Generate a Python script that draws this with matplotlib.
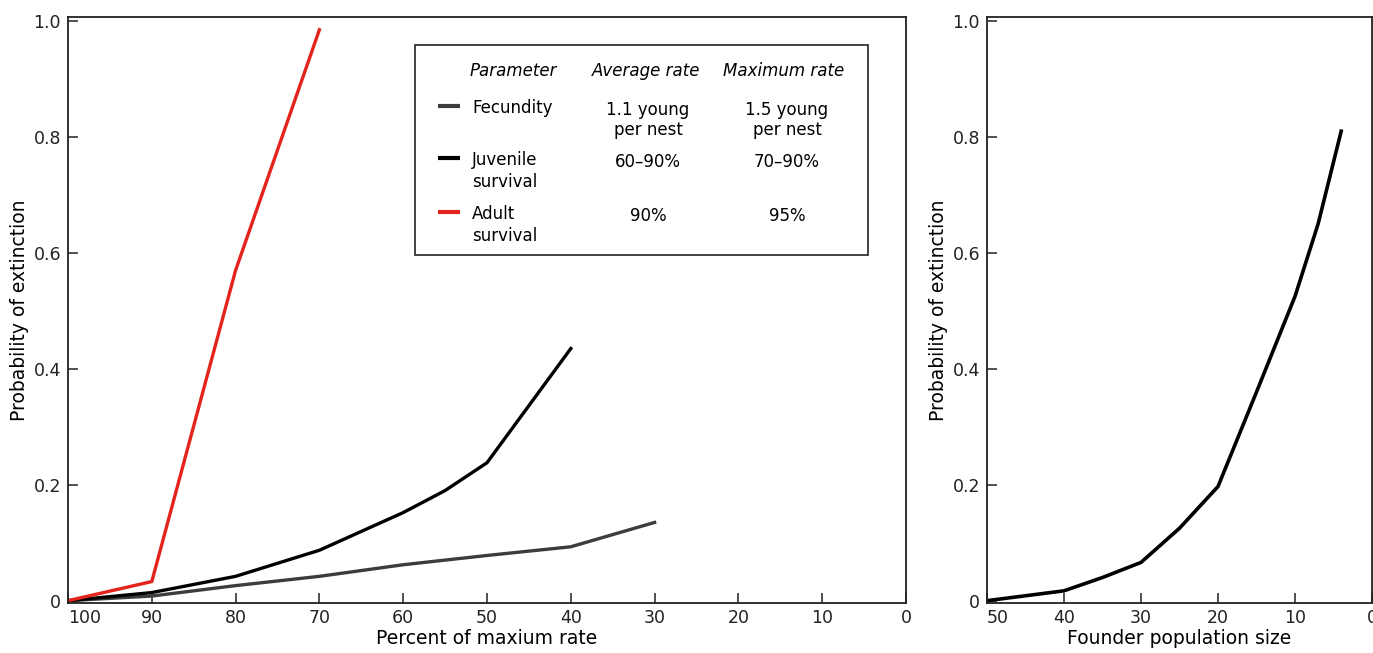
import matplotlib
matplotlib.use("Agg");
import matplotlib.pyplot as plt;
import numpy as np;

plt.rcParams['font.family'] = ['DejaVu Sans'];

# left panel: percent of maximum rate vs probability of extinction
adult_x = [100, 90, 80, 70];
adult_y = [0.0, 0.033, 0.57, 0.985];
juv_x = [100, 90, 80, 70, 60, 55, 50, 40];
juv_y = [0.0, 0.014, 0.042, 0.087, 0.152, 0.19, 0.238, 0.435];
fec_x = [100, 90, 80, 70, 60, 50, 40, 30];
fec_y = [0.0, 0.008, 0.026, 0.042, 0.062, 0.078, 0.093, 0.135];

# right panel: founder population size
founder_x = [50, 40, 35, 30, 25, 20, 15, 10, 7, 4];
founder_y = [0.0, 0.017, 0.04, 0.066, 0.125, 0.197, 0.36, 0.525, 0.65, 0.81];

left_ticks = [100, 90, 80, 70, 60, 50, 40, 30, 20, 10, 0];
right_ticks = [50, 40, 30, 20, 10, 0];
y_ticks = [0, 0.2, 0.4, 0.6, 0.8, 1.0];
y_labels = ['0', '0.2', '0.4', '0.6', '0.8', '1.0'];

red = '#e3231c';
gray = '#3c3c3c';

W, H = 1373, 653;
fig = plt.figure(figsize=(W/100, H/100), dpi=100);
ax1 = fig.add_axes([68/W, 50/H, 838/W, 586/H]);
ax2 = fig.add_axes([987/W, 50/H, 385/W, 586/H]);

ax1.plot(fec_x, fec_y, color=gray, lw=2.4, solid_joinstyle='round');
ax1.plot(juv_x, juv_y, color='black', lw=2.4, solid_joinstyle='round');
ax1.plot(adult_x, adult_y, color=red, lw=2.4, solid_joinstyle='round');
ax2.plot(founder_x, founder_y, color='black', lw=2.6, solid_joinstyle='round');

ax1.set_xlim(100, 0);
ax2.set_xlim(50, 0);
ax1.set_xticks(left_ticks);
ax1.set_xticklabels([str(t) for t in left_ticks]);
ax2.set_xticks(right_ticks);
ax2.set_xticklabels([str(t) for t in right_ticks]);

for ax in (ax1, ax2):
    ax.set_ylim(-0.004, 1.007);
    ax.set_yticks(y_ticks);
    ax.set_yticklabels(y_labels);
    ax.tick_params(direction='in', length=7, width=1.1, labelsize=12.5, colors='#222222');
    ax.tick_params(axis='x', pad=4);
    ax.tick_params(axis='y', pad=5);
    for s in ax.spines.values():
        s.set_linewidth(1.3);
        s.set_color('#222222');
    ax.set_ylabel('Probability of extinction', fontsize=13.5, labelpad=3);
    ax.get_xticklabels()[0].set_horizontalalignment('left');

ax1.set_xlabel('Percent of maxium rate', fontsize=13.5, labelpad=2);
ax2.set_xlabel('Founder population size', fontsize=13.5, labelpad=2);

# legend table box
box = plt.Rectangle((0.414, 0.594), 0.541, 0.358, transform=ax1.transAxes,
                    fill=False, lw=1.2, ec='#222222');
ax1.add_patch(box);

def px(x, y):
    return ((x - 68) / 838, (603 - y) / 586);

fs = 12;
ax1.text(*px(470, 71), 'Parameter', transform=ax1.transAxes, fontsize=fs, style='italic', va='center', ha='left');
ax1.text(*px(646, 71), 'Average rate', transform=ax1.transAxes, fontsize=fs, style='italic', va='center', ha='center');
ax1.text(*px(784, 71), 'Maximum rate', transform=ax1.transAxes, fontsize=fs, style='italic', va='center', ha='center');

rows = [
    ('Fecundity', gray, 106, '1.1 young\nper nest', '1.5 young\nper nest'),
    ('Juvenile\nsurvival', 'black', 158, '60\u201390%', '70\u201390%'),
    ('Adult\nsurvival', red, 212, '90%', '95%'),
];
for name, col, yy, avg, mx in rows:
    x0, y0 = px(438, yy);
    x1, _ = px(460, yy);
    ax1.plot([x0, x1], [y0, y0], color=col, lw=3, transform=ax1.transAxes, solid_capstyle='butt');
    ax1.text(*px(472, yy - 7), name, transform=ax1.transAxes, fontsize=fs, va='top', ha='left', linespacing=1.3);
    ax1.text(*px(648, yy - 5), avg, transform=ax1.transAxes, fontsize=fs, va='top', ha='center', linespacing=1.15);
    ax1.text(*px(787, yy - 5), mx, transform=ax1.transAxes, fontsize=fs, va='top', ha='center', linespacing=1.15);

fig.savefig('out.png', dpi=100);
